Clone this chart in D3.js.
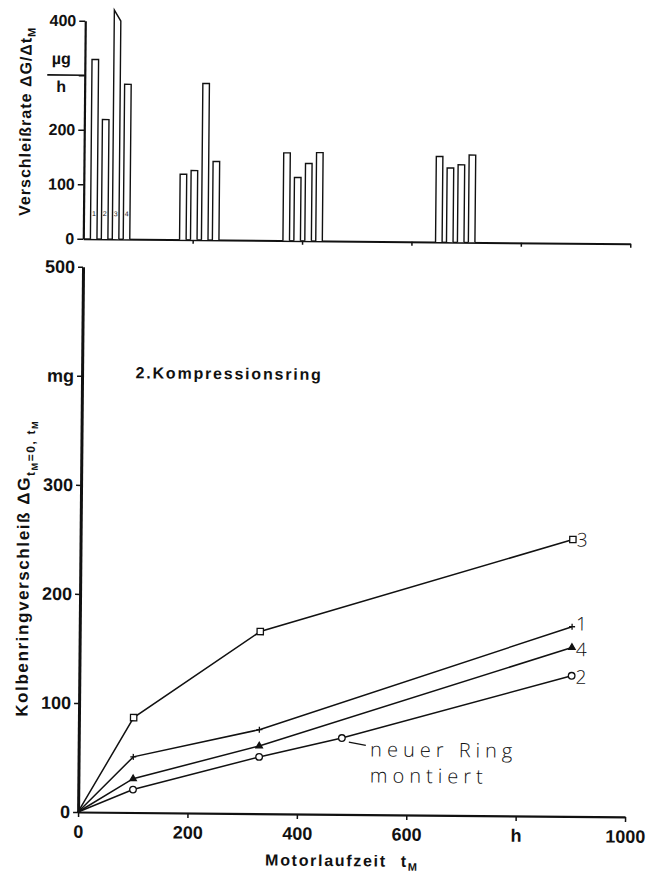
<!DOCTYPE html>
<html>
<head>
<meta charset="utf-8">
<script src="https://cdn.jsdelivr.net/npm/d3@7"></script>
<style>
  body { margin: 0; background: #fff; }
  svg text { font-family: "Liberation Sans", Arial, sans-serif; fill: #111; }
  .thin { font-family: "Open Sans", "DejaVu Sans", sans-serif !important; font-weight: 300; }
</style>
</head>
<body>
<div id="chart"></div>
<script>
// Verschleißrate (top histogram), one bar per ring and interval
const intervalCenters = [49, 212, 401, 680];   // h
const rings = ["1", "2", "3", "4"];
const rateRing1 = [329, 120, 161, 157];
const rateRing2 = [219, 127, 116, 136];
const rateRing3 = [420, 287, 142, 142];
const rateRing4 = [284, 144, 162, 160];
const rateTicks = [0, 100, 200, 300, 400];
const rateTickLabels = ["0", "100", "200", "", "400"];

// Kolbenringverschleiß (bottom line chart)
const hours = [0, 100, 330, 900];
const hoursRing2 = [0, 100, 330, 481, 900];
const wearRing1 = [0, 51, 77, 174];
const wearRing2 = [0, 21, 52, 70, 129];
const wearRing3 = [0, 87, 167, 254];
const wearRing4 = [0, 31, 62, 155];
const wearTicks = [0, 100, 200, 300, 400, 500];
const wearTickLabels = ["0", "100", "200", "300", "mg", "500"];
const timeTicks = [0, 200, 400, 600, 800, 1000];
const timeTickLabels = ["0", "200", "400", "600", "h", "1000"];

const width = 648, height = 875;

const svg = d3.select("#chart").append("svg")
  .attr("width", width)
  .attr("height", height);

svg.append("rect").attr("width", width).attr("height", height).attr("fill", "#fff");

// the scanned figure sits slightly rotated
const root = svg.append("g").attr("transform", "rotate(0.52, 324, 437)");

const x = d3.scaleLinear().domain([0, 1000]).range([81.5, 628.5]);
const yTop = d3.scaleLinear().domain([0, 400]).range([241, 22.9]);
const yBot = d3.scaleLinear().domain([0, 500]).range([814.2, 269]);

// ---------- top: wear rate bars ----------
const band = d3.scaleBand().domain(rings).range([-44, 44]).paddingInner(0.4).paddingOuter(0.4);
const rates = [rateRing1, rateRing2, rateRing3, rateRing4];

const bars = [];
intervalCenters.forEach((c, gi) => {
  rings.forEach((r, ri) => {
    bars.push({ group: gi, ring: r, x0: c + band(r), x1: c + band(r) + band.bandwidth(), value: rates[ri][gi] });
  });
});

const topAxisX = root.append("g")
  .attr("transform", `translate(0,${yTop(0)})`)
  .call(d3.axisBottom(x).tickValues(timeTicks.slice(1)).tickFormat("").tickSize(4).tickSizeOuter(0));
topAxisX.select(".domain").attr("stroke", "#111").attr("stroke-width", 2);
topAxisX.selectAll(".tick line").attr("stroke", "#111").attr("stroke-width", 1.5);

root.append("g").selectAll("path")
  .data(bars)
  .join("path")
  .attr("d", d => {
    const a = x(d.x0), b = x(d.x1);
    const top = yTop(d.value);
    // bars running past the axis end get a slanted tip
    const topRight = d.value > 400 ? yTop(400) : top;
    return `M${a},${yTop(0)}L${a},${top}L${b},${topRight}L${b},${yTop(0)}`;
  })
  .attr("fill", "#fff")
  .attr("stroke", "#111")
  .attr("stroke-width", 1.4);

root.append("g").selectAll("text")
  .data(bars.filter(d => d.group === 0))
  .join("text")
  .attr("x", d => (x(d.x0) + x(d.x1)) / 2)
  .attr("y", yTop(42))
  .attr("text-anchor", "middle")
  .attr("font-size", 7)
  .text(d => d.ring);

const topAxisY = root.append("g")
  .attr("transform", `translate(${x(0)},0)`)
  .call(d3.axisLeft(yTop).tickValues(rateTicks).tickFormat((d, i) => rateTickLabels[i])
    .tickSize(6).tickPadding(3).tickSizeOuter(0));
topAxisY.select(".domain").attr("stroke", "#111").attr("stroke-width", 2.2);
topAxisY.selectAll(".tick line").attr("stroke", "#111").attr("stroke-width", 1.5);
topAxisY.selectAll(".tick text").attr("font-size", 16).attr("font-weight", "bold").attr("fill", "#111");

// unit fraction at the 300 tick
root.append("line")
  .attr("x1", 44).attr("x2", x(0))
  .attr("y1", yTop(300)).attr("y2", yTop(300))
  .attr("stroke", "#111").attr("stroke-width", 1.6);
root.append("text").attr("x", 58).attr("y", yTop(300) - 11)
  .attr("text-anchor", "middle").attr("font-size", 16).attr("font-weight", "bold").text("µg");
root.append("text").attr("x", 58).attr("y", yTop(300) + 17)
  .attr("text-anchor", "middle").attr("font-size", 16).attr("font-weight", "bold").text("h");

const topTitle = root.append("text")
  .attr("transform", "translate(28,124) rotate(-90)")
  .attr("text-anchor", "middle")
  .attr("font-size", 16)
  .attr("font-weight", "bold")
  .attr("letter-spacing", 1);
topTitle.append("tspan").text("Verschleißrate  ΔG/Δt");
topTitle.append("tspan").attr("font-size", 11).attr("dy", 4).text("M");

// ---------- bottom: cumulative wear ----------
const botAxisX = root.append("g")
  .attr("transform", `translate(0,${yBot(0)})`)
  .call(d3.axisBottom(x).tickValues(timeTicks).tickFormat((d, i) => timeTickLabels[i])
    .tickSize(5).tickPadding(8).tickSizeOuter(0));
botAxisX.select(".domain").attr("stroke", "#111").attr("stroke-width", 2.2);
botAxisX.selectAll(".tick line").attr("stroke", "#111").attr("stroke-width", 1.5);
botAxisX.selectAll(".tick text").attr("font-size", 18).attr("font-weight", "bold").attr("fill", "#111");

const botAxisY = root.append("g")
  .attr("transform", `translate(${x(0)},0)`)
  .call(d3.axisLeft(yBot).tickValues(wearTicks).tickFormat((d, i) => wearTickLabels[i])
    .tickSize(5).tickPadding(3).tickSizeOuter(0));
botAxisY.select(".domain").attr("stroke", "#111").attr("stroke-width", 3);
botAxisY.selectAll(".tick line").attr("stroke", "#111").attr("stroke-width", 1.5);
botAxisY.selectAll(".tick text").attr("font-size", 18).attr("font-weight", "bold").attr("fill", "#111");

const series = [
  { name: "1", t: hours, v: wearRing1, marker: "plus" },
  { name: "2", t: hoursRing2, v: wearRing2, marker: "circle" },
  { name: "3", t: hours, v: wearRing3, marker: "square" },
  { name: "4", t: hours, v: wearRing4, marker: "triangle" }
];

// small vertical nudges so the end labels don't collide
const labelNudge = { "1": -3, "2": 1, "3": 0, "4": 2 };

const line = d3.line()
  .x(d => x(d[0]))
  .y(d => yBot(d[1]));

const lines = root.append("g");
series.forEach(s => {
  const pts = s.t.map((t, i) => [t, s.v[i]]);
  lines.append("path")
    .datum(pts)
    .attr("fill", "none")
    .attr("stroke", "#111")
    .attr("stroke-width", 1.5)
    .attr("d", line);

  const marks = lines.append("g").selectAll("path")
    .data(pts.slice(1))
    .join("path")
    .attr("transform", d => `translate(${x(d[0])},${yBot(d[1])})`)
    .attr("stroke", "#111")
    .attr("stroke-width", 1.3);

  if (s.marker === "square") {
    marks.attr("d", d3.symbol(d3.symbolSquare, 40)).attr("fill", "#fff");
  } else if (s.marker === "circle") {
    marks.attr("d", d3.symbol(d3.symbolCircle, 34)).attr("fill", "#fff");
  } else if (s.marker === "triangle") {
    marks.attr("d", d3.symbol(d3.symbolTriangle, 18)).attr("fill", "#111");
  } else {
    marks.attr("d", "M-3,0H3M0,-3V3").attr("fill", "none");
  }

  const last = pts[pts.length - 1];
  lines.append("text")
    .attr("class", "thin")
    .attr("x", x(last[0]) + 4)
    .attr("y", yBot(last[1]) + labelNudge[s.name])
    .attr("dy", "0.36em")
    .attr("font-size", 19)
    .text(s.name);
});

// annotation on ring 2
const mark = [hoursRing2[3], wearRing2[3]];
root.append("line")
  .attr("x1", x(mark[0]) + 7).attr("y1", yBot(mark[1]) + 4)
  .attr("x2", x(mark[0]) + 24).attr("y2", yBot(mark[1]) + 7)
  .attr("stroke", "#111").attr("stroke-width", 1.3);
root.append("text").attr("class", "thin")
  .attr("x", 373).attr("y", 756)
  .attr("font-size", 20).attr("letter-spacing", 5)
  .text("neuer Ring");
root.append("text").attr("class", "thin")
  .attr("x", 373).attr("y", 782)
  .attr("font-size", 20).attr("letter-spacing", 5)
  .text("montiert");

root.append("text")
  .attr("x", 135).attr("y", 380)
  .attr("font-size", 16)
  .attr("font-weight", "bold")
  .attr("letter-spacing", 1.8)
  .text("2.Kompressionsring");

const xTitle = root.append("text")
  .attr("x", 269).attr("y", 866)
  .attr("font-size", 16)
  .attr("font-weight", "bold")
  .attr("letter-spacing", 1.7);
xTitle.append("tspan").text("Motorlaufzeit");
xTitle.append("tspan").attr("dx", 14).text("t");
xTitle.append("tspan").attr("font-size", 11).attr("dy", 4).text("M");

const yTitle = root.append("text")
  .attr("transform", "translate(30,571) rotate(-90)")
  .attr("text-anchor", "middle")
  .attr("font-size", 17)
  .attr("font-weight", "bold")
  .attr("letter-spacing", 1.6);
yTitle.append("tspan").text("Kolbenringverschleiß  ΔG");
yTitle.append("tspan").attr("font-size", 12).attr("dy", 5).text("t");
yTitle.append("tspan").attr("font-size", 9).attr("dy", 3).text("M");
yTitle.append("tspan").attr("font-size", 12).attr("dy", -3).text("=0, t");
yTitle.append("tspan").attr("font-size", 9).attr("dy", 3).text("M");
</script>
</body>
</html>
